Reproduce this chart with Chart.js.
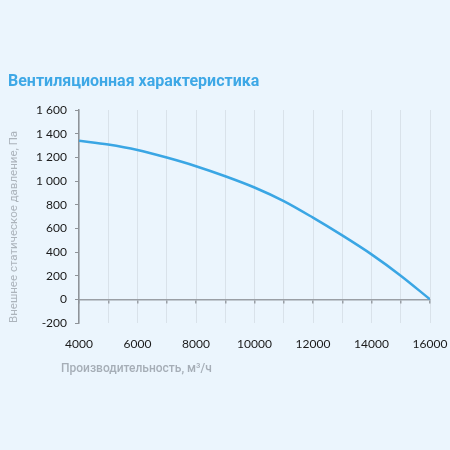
<!DOCTYPE html>
<html>
<head>
<meta charset="utf-8">
<script src="https://cdn.jsdelivr.net/npm/chart.js@4.4.1/dist/chart.umd.min.js"></script>
<style>
    html, body { margin: 0; padding: 0; background: #ebf5fd; }
    #wrap { position: relative; width: 450px; height: 450px; }
</style>
</head>
<body>
<div id="wrap"><canvas id="fanChart" width="450" height="450"></canvas></div>
<script>
// Airflow, m3/h
const airflow = [4000, 5000, 6000, 7000, 8000, 9000, 10000, 11000, 12000, 13000, 14000, 15000, 16000];
// External static pressure, Pa
const pressure = [1340, 1308, 1262, 1198, 1125, 1040, 945, 830, 690, 540, 380, 200, 0];

const chartTitle = 'Вентиляционная характеристика';
const xTitle = 'Производительность, м³/ч';
const yTitle = 'Внешнее статическое давление, Па';

const tickFont = { family: 'Lato', size: 12 };

// Draws the heading and the x axis caption (left-aligned, not centred on the plot)
const captions = {
    id: 'captions',
    afterDraw(chart) {
        const ctx = chart.ctx;
        ctx.save();
        ctx.textAlign = 'left';
        ctx.textBaseline = 'alphabetic';
        ctx.fillStyle = '#3ea8e6';
        ctx.font = 'bold 16px Roboto';
        ctx.fillText(chartTitle, 8, 86);
        ctx.fillStyle = '#a6aeb7';
        ctx.font = '500 12px Roboto';
        ctx.fillText(xTitle, 61, 372);
        ctx.restore();
    }
};

function formatThousands(value) {
    const s = String(Math.abs(value));
    const out = s.length > 3 ? s.slice(0, -3) + ' ' + s.slice(-3) : s;
    return value < 0 ? '-' + out : out;
}

// keep the plot edges where the reference has them
function fitX(height) {
    return s => {
        if (height !== undefined) s.height = height;
        s.paddingLeft = 0;
        s.paddingRight = 0;
    };
}

const ctx = document.getElementById('fanChart').getContext('2d');

new Chart(ctx, {
    type: 'line',
    data: {
        datasets: [{
            data: airflow.map((x, i) => ({ x: x, y: pressure[i] })),
            borderColor: '#3aa6e4',
            borderWidth: 2.5,
            pointRadius: 0,
            cubicInterpolationMode: 'monotone',
            fill: false
        }]
    },
    options: {
        responsive: false,
        animation: false,
        layout: {
            padding: { left: 0, right: 20, top: 110, bottom: 0 }
        },
        plugins: {
            legend: { display: false },
            tooltip: { enabled: false }
        },
        scales: {
            x: {
                type: 'linear',
                min: 4000,
                max: 16000,
                afterFit: fitX(127),
                border: { display: false },
                grid: {
                    color: '#d9e2ea',
                    lineWidth: 1,
                    drawTicks: false
                },
                ticks: {
                    stepSize: 1000,
                    autoSkip: false,
                    maxRotation: 0,
                    padding: 14,
                    color: '#1a1a1a',
                    font: tickFont,
                    callback: v => (v % 2000 === 0 ? String(v) : '')
                }
            },
            zero: {
                type: 'linear',
                axis: 'x',
                position: { y: 0 },
                min: 4000,
                max: 16000,
                afterFit: fitX(),
                border: { display: true, color: '#9a9fa5', width: 1.5 },
                grid: {
                    drawOnChartArea: false,
                    drawTicks: true,
                    tickLength: 3,
                    color: '#9a9fa5',
                    lineWidth: 1.5
                },
                ticks: { stepSize: 1000, display: false }
            },
            y: {
                min: -200,
                max: 1600,
                afterFit: s => { s.width = 79; },
                border: { display: true, color: '#8e9399', width: 1.5 },
                grid: {
                    drawOnChartArea: false,
                    drawTicks: true,
                    tickLength: 4,
                    color: '#8e9399'
                },
                ticks: {
                    stepSize: 200,
                    padding: 8,
                    color: '#1a1a1a',
                    font: tickFont,
                    callback: v => formatThousands(v)
                },
                title: {
                    display: true,
                    align: 'start',
                    text: yTitle,
                    color: '#acb4bc',
                    font: { family: 'Roboto', size: 11.5 },
                    padding: { top: 7, bottom: 0 }
                }
            }
        }
    },
    plugins: [captions]
});
</script>
</body>
</html>
